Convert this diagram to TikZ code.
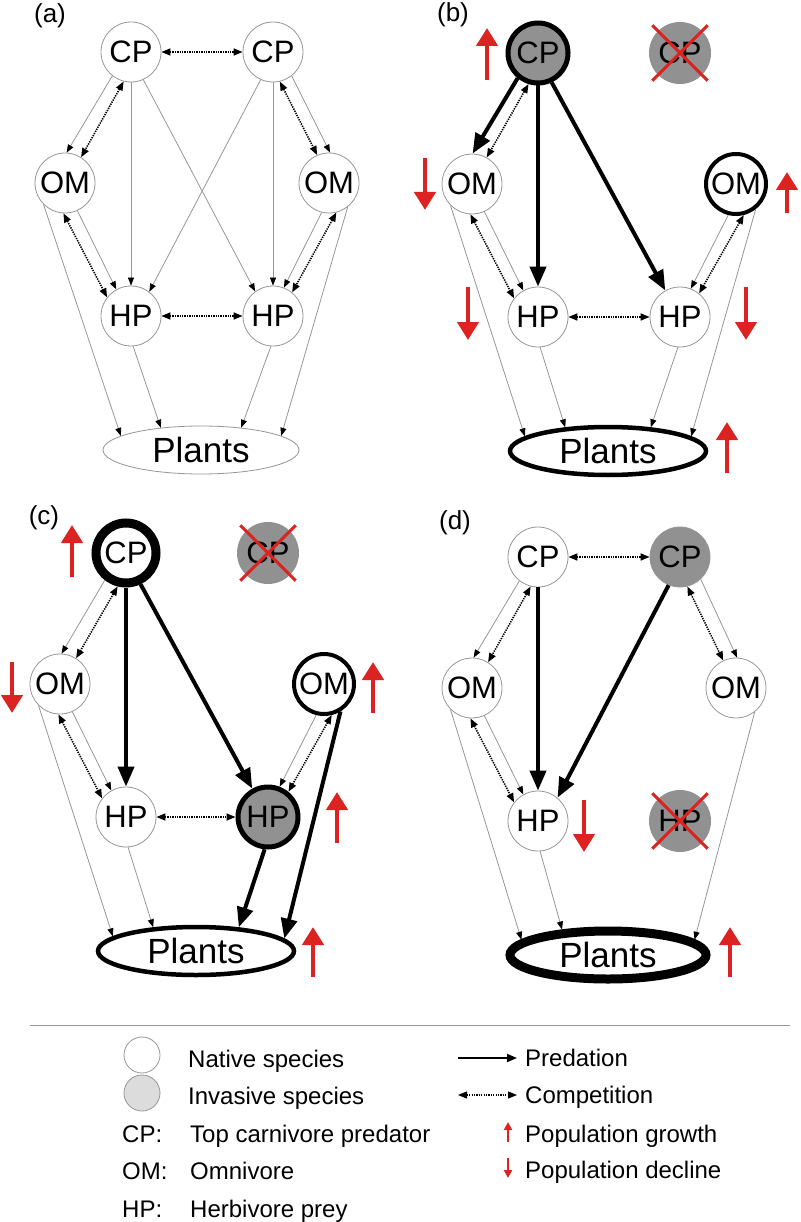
\documentclass[tikz,border=0pt]{standalone}
\usepackage{fontspec}
\setmainfont{Liberation Sans}
\usetikzlibrary{arrows.meta,shapes.geometric}
\definecolor{linegray}{RGB}{150,150,150}
\definecolor{invgray}{RGB}{145,145,145}
\definecolor{lightinv}{RGB}{220,220,220}
\definecolor{popred}{RGB}{221,34,34}
\newcommand\spfont{\fontsize{31}{36}\selectfont}
\newcommand\plfont{\fontsize{35}{40}\selectfont}
\newcommand\labfont{\fontsize{26}{30}\selectfont}
\newcommand\lgfont{\fontsize{24}{28}\selectfont}
\tikzset{
  sp/.style={circle, draw=linegray, line width=0.8pt, fill=white, minimum size=60pt, inner sep=0pt, font=\spfont},
  inv/.style={sp, fill=invgray},
  gone/.style={circle, fill=invgray, minimum size=62pt, inner sep=0pt, font=\spfont},
  plnt/.style={ellipse, draw=linegray, line width=0.8pt, fill=white, minimum width=196pt, minimum height=48pt, inner sep=0pt, font=\plfont},
  pred/.style={draw=linegray, line width=0.8pt, -{Triangle[length=8pt,width=6pt,color=black]}},
  comp/.style={black, line width=1.6pt, dash pattern=on 1.3pt off 1.1pt, {Triangle[length=9pt,width=7pt]}-{Triangle[length=9pt,width=7pt]}},
  bigpred/.style={black, line width=4pt, -{Triangle[length=20pt,width=16pt]}},
  popchg/.style={popred, line width=4.8pt, -{Triangle[length=18pt,width=21pt]}},
  xmark/.style={popred, line width=3pt, shorten <=-8pt, shorten >=-8pt},
  lgtxt/.style={anchor=base west, inner sep=0pt, font=\lgfont},
  lgpop/.style={popred, line width=2.2pt, -{Triangle[length=8pt,width=8pt]}},
}

\begin{document}
\begin{tikzpicture}[x=1pt, y=-1pt]
\useasboundingbox (0,0) rectangle (800,1222);

% (a) native food web
\begin{scope}
\node[font=\labfont] (alab) at (50,16) {(a)};
\node[sp] (acpl) at (131,52) {CP};
\node[sp] (acpr) at (273,52) {CP};
\node[sp] (aoml) at (65,183) {OM};
\node[sp] (aomr) at (329,183) {OM};
\node[sp] (ahpl) at (131,316) {HP};
\node[sp] (ahpr) at (273,316) {HP};
\node[plnt] (apl) at (201,450) {Plants};
\draw[comp] (acpl) -- (acpr);
\draw[comp] (ahpl) -- (ahpr);
\draw[pred] (acpl.232) -- (aoml.87);
\draw[comp] (acpl.256) -- (aoml.58);
\draw[pred] (acpr.308) -- (aomr.88);
\draw[comp] (acpr.283) -- (aomr.113);
\draw[pred] (acpl.south) -- (ahpl.north);
\draw[pred] (acpr.south) -- (ahpr.north);
\draw[pred] (acpl.294) -- (ahpr.126);
\draw[pred] (acpr.246) -- (ahpl.53);
\draw[pred] (aoml.294) -- (ahpl.119);
\draw[comp] (aoml.267) -- (ahpl.142);
\draw[pred] (aomr.256) -- (ahpr.69);
\draw[comp] (aomr.284) -- (ahpr.51);
\draw[pred] (aoml.225) -- (apl.170);
\draw[pred] (aomr.308) -- (apl.10);
\draw[pred] (ahpl.274) -- (apl.151);
\draw[pred] (ahpr.266) -- (apl.29);
\end{scope}

% (b) invasive top predator
\begin{scope}[shift={(407,1)}]
\node[font=\labfont] (blab) at (46,14) {(b)};
\node[inv, draw=black, line width=5pt] (bcpl) at (131,52) {CP};
\node[gone] (bcpr) at (273,52) {CP};
\node[sp] (boml) at (65,183) {OM};
\node[sp, draw=black, line width=4pt] (bomr) at (329,183) {OM};
\node[sp] (bhpl) at (131,316) {HP};
\node[sp] (bhpr) at (273,316) {HP};
\node[plnt, draw=black, line width=4.5pt] (bpl) at (201,450) {Plants};
\draw[xmark] (bcpr.north west) -- (bcpr.south east);
\draw[xmark] (bcpr.north east) -- (bcpr.south west);
\draw[bigpred] (bcpl.231) -- (boml.89);
\draw[comp] (bcpl.253) -- (boml.61);
\draw[bigpred] (bcpl.south) -- (bhpl.north);
\draw[bigpred] (bcpl.295) -- (bhpr.119);
\draw[pred] (boml.294) -- (bhpl.119);
\draw[comp] (boml.267) -- (bhpl.142);
\draw[pred] (bomr.256) -- (bhpr.69);
\draw[comp] (bomr.284) -- (bhpr.51);
\draw[comp] (bhpl) -- (bhpr);
\draw[pred] (boml.225) -- (bpl.170);
\draw[pred] (bomr.308) -- (bpl.10);
\draw[pred] (bhpl.274) -- (bpl.151);
\draw[pred] (bhpr.266) -- (bpl.29);
\draw[popchg] (80,79) -- (80,27);
\draw[popchg] (18,157) -- (18,209);
\draw[popchg] (380,212) -- (380,171);
\draw[popchg] (61,286) -- (61,339);
\draw[popchg] (339,286) -- (339,339);
\draw[popchg] (320,472) -- (320,421);
\end{scope}

% (c) invasive herbivore
\begin{scope}[shift={(-5,501)}]
\node[font=\labfont] (clab) at (49,17) {(c)};
\node[sp, draw=black, line width=9pt] (ccpl) at (131,52) {CP};
\node[gone] (ccpr) at (273,52) {CP};
\node[sp] (coml) at (65,183) {OM};
\node[sp, draw=black, line width=4pt] (comr) at (329,183) {OM};
\node[sp] (chpl) at (131,316) {HP};
\node[inv, draw=black, line width=5pt] (chpr) at (273,316) {HP};
\node[plnt, draw=black, line width=4.5pt] (cpl) at (201,450) {Plants};
\draw[xmark] (ccpr.north west) -- (ccpr.south east);
\draw[xmark] (ccpr.north east) -- (ccpr.south west);
\draw[pred] (ccpl.232) -- (coml.87);
\draw[comp] (ccpl.256) -- (coml.58);
\draw[bigpred] (ccpl.south) -- (chpl.north);
\draw[bigpred] (ccpl.295) -- (chpr.119);
\draw[pred] (coml.294) -- (chpl.119);
\draw[comp] (coml.267) -- (chpl.142);
\draw[pred] (comr.256) -- (chpr.69);
\draw[comp] (comr.284) -- (chpr.51);
\draw[comp] (chpl) -- (chpr);
\draw[pred] (coml.225) -- (cpl.170);
\draw[pred] (chpl.274) -- (cpl.151);
\draw[bigpred] (chpr.264) -- (cpl.29);
\draw[bigpred] (comr.301) -- (cpl.8);
\draw[popchg] (77,76) -- (77,24);
\draw[popchg] (17,161) -- (17,212);
\draw[popchg] (378,212) -- (378,161);
\draw[popchg] (342,342) -- (342,291);
\draw[popchg] (318,476) -- (318,426);
\end{scope}

% (d) invasive predator, herbivore lost
\begin{scope}[shift={(407,505)}]
\node[font=\labfont] (dlab) at (48,18) {(d)};
\node[sp] (dcpl) at (131,52) {CP};
\node[inv] (dcpr) at (273,52) {CP};
\node[sp] (doml) at (65,183) {OM};
\node[sp] (domr) at (329,183) {OM};
\node[sp] (dhpl) at (131,316) {HP};
\node[gone] (dhpr) at (273,316) {HP};
\node[plnt, draw=black, line width=9pt] (dpl) at (201,450) {Plants};
\draw[xmark] (dhpr.north west) -- (dhpr.south east);
\draw[xmark] (dhpr.north east) -- (dhpr.south west);
\draw[comp] (dcpl) -- (dcpr);
\draw[pred] (dcpl.232) -- (doml.87);
\draw[comp] (dcpl.256) -- (doml.58);
\draw[bigpred] (dcpl.south) -- (dhpl.north);
\draw[bigpred] (dcpr.248) -- (dhpl.50);
\draw[pred] (dcpr.313) -- (domr.88);
\draw[comp] (dcpr.284) -- (domr.115);
\draw[pred] (doml.294) -- (dhpl.119);
\draw[comp] (doml.267) -- (dhpl.142);
\draw[pred] (doml.225) -- (dpl.170);
\draw[pred] (dhpl.274) -- (dpl.151);
\draw[pred] (domr.308) -- (dpl.10);
\draw[popchg] (177,295) -- (177,347);
\draw[popchg] (323,472) -- (323,422);
\end{scope}

% legend
\draw[linegray, line width=1pt] (30,1025) -- (790,1025);
\node[circle, draw=linegray, line width=0.8pt, minimum size=36pt, inner sep=0pt] (lnat) at (142,1055) {};
\node[circle, draw=linegray, line width=0.8pt, fill=lightinv, minimum size=36pt, inner sep=0pt] (linv) at (142,1093) {};
\node[lgtxt] (tnat) at (188,1067) {Native species};
\node[lgtxt] (tinv) at (188,1104) {Invasive species};
\node[lgtxt] (kcp) at (122,1142) {CP:};
\node[lgtxt] (tcp) at (190,1142) {Top carnivore predator};
\node[lgtxt] (kom) at (122,1179) {OM:};
\node[lgtxt] (tom) at (190,1179) {Omnivore};
\node[lgtxt] (khp) at (122,1217) {HP:};
\node[lgtxt] (thp) at (190,1217) {Herbivore prey};
\node[lgtxt] (tpred) at (525,1066) {Predation};
\node[lgtxt] (tcomp) at (525,1103) {Competition};
\node[lgtxt] (tgrow) at (525,1142) {Population growth};
\node[lgtxt] (tdecl) at (525,1178) {Population decline};
\coordinate (lpa) at (458,1058);
\coordinate (lpb) at (517,1058);
\coordinate (lca) at (458,1095);
\coordinate (lcb) at (517,1095);
\draw[black, line width=1.6pt, -{Triangle[length=10pt,width=8pt]}] (lpa) -- (lpb);
\draw[comp, line width=1.1pt] (lca) -- (lcb);
\draw[lgpop] (508,1142) -- (508,1122);
\draw[lgpop] (508,1158) -- (508,1178);
\end{tikzpicture}
\end{document}
